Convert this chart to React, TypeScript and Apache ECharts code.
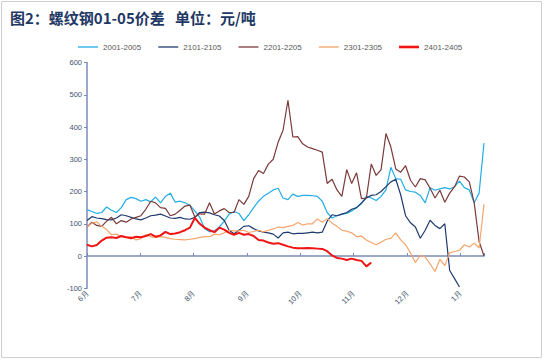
import React, { useEffect, useRef } from "react";
import * as echarts from "echarts";

const monthLabels = ["6月", "7月", "8月", "9月", "10月", "11月", "12月", "1月"];
const seriesNames = ["2001-2005", "2101-2105", "2201-2205", "2301-2305", "2401-2405"];
const dayStep = 2;

const s2001 = [144, 138, 132, 135, 152, 142, 135, 150, 175, 182, 178, 170, 175, 168, 183, 165, 185, 195, 167, 170,
  165, 157, 140, 120, 85, 75, 78, 90, 108, 130, 138, 132, 110, 128, 150, 170, 185, 195, 205, 210,
  180, 175, 192, 185, 188, 188, 187, 185, 170, 135, 118, 125, 130, 132, 140, 150, 162, 185, 180, 172,
  185, 205, 275, 240, 238, 205, 200, 198, 188, 165, 212, 204, 208, 212, 208, 215, 232, 212, 205, 165,
  195, 350];
const s2101 = [110, 122, 118, 116, 113, 112, 118, 128, 125, 120, 115, 112, 118, 125, 127, 130, 124, 118, 117, 120,
  115, 114, 120, 135, 136, 134, 128, 124, 110, 80, 69, 80, 92, 94, 85, 78, 74, 72, 68, 56,
  72, 74, 69, 70, 70, 72, 74, 72, 74, 108, 128, 125, 130, 135, 145, 150, 165, 180, 188, 190,
  200, 215, 230, 238, 190, 125, 103, 90, 55, 80, 111, 95, 85, 100, -45, -70, -96];
const s2201 = [90, 105, 95, 92, 108, 120, 100, 110, 105, 115, 120, 125, 145, 170, 165, 150, 148, 125, 130, 142,
  155, 158, 121, 131, 130, 165, 130, 140, 147, 135, 135, 175, 160, 185, 240, 265, 256, 285, 300, 353,
  390, 483, 369, 370, 348, 338, 333, 328, 322, 225, 238, 205, 185, 268, 225, 258, 178, 180, 285, 250,
  268, 380, 338, 270, 260, 280, 235, 214, 240, 236, 210, 180, 204, 167, 195, 215, 248, 245, 230, 165,
  45, 0];
const s2301 = [90, 102, 106, 92, 82, 66, 68, 60, 58, 60, 50, 54, 66, 60, 57, 60, 58, 54, 52, 51,
  50, 52, 54, 58, 60, 60, 68, 66, 72, 80, 78, 78, 80, 73, 76, 80, 75, 80, 84, 90,
  88, 92, 95, 104, 96, 100, 100, 115, 105, 116, 102, 92, 80, 77, 72, 60, 62, 50, 42, 35,
  43, 52, 55, 72, 50, 35, 10, -20, 2, -3, -24, -48, -10, -30, 10, 14, 18, 35, 28, 40,
  25, 160];
const s2401 = [35, 30, 34, 48, 57, 58, 56, 62, 58, 55, 60, 58, 62, 68, 60, 64, 75, 68, 70, 74,
  80, 88, 118, 100, 88, 80, 74, 88, 82, 72, 66, 72, 66, 68, 62, 50, 48, 42, 38, 40,
  35, 30, 26, 24, 24, 25, 24, 23, 22, 15, 2, -6, -8, -12, -8, -12, -15, -32, -20];

const colors = ["#22AEE6", "#1F3A6E", "#7B3A3A", "#F5A56B", "#F01414"];
const allValues = [s2001, s2101, s2201, s2301, s2401];
const monthSpan = 21.75;

export default function App() {
  const ref = useRef<HTMLDivElement>(null);
  useEffect(() => {
    if (!ref.current) return;
    const chart = echarts.init(ref.current, null, { renderer: "svg" });
    const axisColor = "#7A8BB5";
    const labelColor = "#44546A";
    chart.setOption({
      animation: false,
      backgroundColor: "#ffffff",
      title: {
        text: "图2：螺纹钢01-05价差   单位：元/吨",
        left: 5,
        top: 5,
        textStyle: {
          fontSize: 15,
          fontWeight: "bold",
          color: "#1F3864",
          fontFamily: "Noto Sans CJK SC",
        },
      },
      graphic: [
        {
          type: "rect",
          shape: { x: 1.5, y: 1.5, width: 540, height: 356 },
          style: { fill: "none", stroke: "#cfcfcf", lineWidth: 1 },
          silent: true,
        },
      ],
      legend: {
        left: 73,
        top: 38,
        itemGap: 17,
        itemWidth: 20,
        itemHeight: 9,
        symbolKeepAspect: true,
        textStyle: { fontSize: 8, color: "#595959", fontFamily: "Liberation Sans" },
        data: seriesNames.map((n, i) => ({
          name: n,
          icon: i === 4 ? "path://M0 0H20V2.6H0Z" : "path://M0 0H20V1.3H0Z",
        })),
      },
      grid: { left: 87, right: 61, top: 62.5, bottom: 72.7, containLabel: false },
      xAxis: {
        type: "value",
        min: 0,
        max: 162,
        interval: monthSpan,
        axisLine: { onZero: true, lineStyle: { color: axisColor, width: 1.5 } },
        axisTick: { inside: true, length: 3, lineStyle: { color: axisColor } },
        splitLine: { show: false },
        axisLabel: {
          rotate: 45,
          fontSize: 7.5,
          color: labelColor,
          margin: 4,
          fontFamily: "Liberation Sans",
          formatter: (v: number) => {
            const m = v / monthSpan;
            const r = Math.round(m);
            return Math.abs(m - r) < 0.001 && r < monthLabels.length ? monthLabels[r] : "";
          },
        },
      },
      yAxis: {
        type: "value",
        min: -100,
        max: 600,
        interval: 100,
        axisLine: { show: true, lineStyle: { color: axisColor, width: 1.5 } },
        axisTick: { show: true, length: 3, lineStyle: { color: axisColor } },
        splitLine: { show: false },
        axisLabel: { fontSize: 7.5, color: labelColor, margin: 5, fontFamily: "Liberation Sans" },
      },
      series: allValues.map((vals, si) => ({
        name: seriesNames[si],
        type: "line",
        symbol: "none",
        data: vals.map((v, i) => [i * dayStep, v]),
        lineStyle: { color: colors[si], width: si === 4 ? 2 : 1.2 },
        itemStyle: { color: colors[si] },
        z: 2 + si,
      })),
    });
    return () => chart.dispose();
  }, []);
  return (
    <div
      ref={ref}
      style={{ position: "fixed", left: 0, top: 0, width: 545, height: 361, background: "#fff" }}
    />
  );
}
